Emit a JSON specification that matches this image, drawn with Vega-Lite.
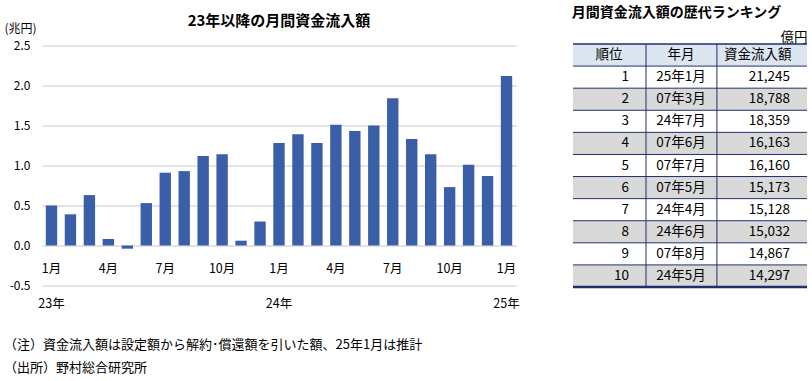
{
  "$schema": "https://vega.github.io/schema/vega-lite/v6.json",
  "padding": {"left": 4, "top": 6, "right": 5, "bottom": 5},
  "background": "white",
  "bounds": "flush",
  "spacing": 57,
  "center": true,
  "config": {
    "font": "Noto Sans CJK JP",
    "view": {"stroke": null},
    "text": {"font": "Noto Sans CJK JP"}
  },
  "title": {
    "text": ["（注）資金流入額は設定額から解約･償還額を引いた額、25年1月は推計", "（出所）野村総合研究所"],
    "orient": "bottom",
    "anchor": "start",
    "fontSize": 13,
    "fontWeight": "normal",
    "color": "#000000",
    "lineHeight": 22.5,
    "offset": 29
  },
  "datasets": {
    "flow": [
      {"ym": "23/01", "value": 0.50},
      {"ym": "23/02", "value": 0.39},
      {"ym": "23/03", "value": 0.63},
      {"ym": "23/04", "value": 0.08},
      {"ym": "23/05", "value": -0.04},
      {"ym": "23/06", "value": 0.53},
      {"ym": "23/07", "value": 0.91},
      {"ym": "23/08", "value": 0.93},
      {"ym": "23/09", "value": 1.12},
      {"ym": "23/10", "value": 1.14},
      {"ym": "23/11", "value": 0.06},
      {"ym": "23/12", "value": 0.30},
      {"ym": "24/01", "value": 1.28},
      {"ym": "24/02", "value": 1.39},
      {"ym": "24/03", "value": 1.28},
      {"ym": "24/04", "value": 1.51},
      {"ym": "24/05", "value": 1.43},
      {"ym": "24/06", "value": 1.50},
      {"ym": "24/07", "value": 1.84},
      {"ym": "24/08", "value": 1.33},
      {"ym": "24/09", "value": 1.14},
      {"ym": "24/10", "value": 0.73},
      {"ym": "24/11", "value": 1.01},
      {"ym": "24/12", "value": 0.87},
      {"ym": "25/01", "value": 2.12}
    ],
    "ranking": [
      {"rank": 1, "ym": "25年1月", "amount": 21245},
      {"rank": 2, "ym": "07年3月", "amount": 18788},
      {"rank": 3, "ym": "24年7月", "amount": 18359},
      {"rank": 4, "ym": "07年6月", "amount": 16163},
      {"rank": 5, "ym": "07年7月", "amount": 16160},
      {"rank": 6, "ym": "07年5月", "amount": 15173},
      {"rank": 7, "ym": "24年4月", "amount": 15128},
      {"rank": 8, "ym": "24年6月", "amount": 15032},
      {"rank": 9, "ym": "07年8月", "amount": 14867},
      {"rank": 10, "ym": "24年5月", "amount": 14297}
    ]
  },
  "hconcat": [
    {
      "width": 474,
      "height": 240,
      "title": {"text": "23年以降の月間資金流入額", "fontSize": 15, "fontWeight": "bold", "color": "#000000", "offset": -6},
      "data": {"name": "flow"},
      "mark": {"type": "bar", "color": "#3b5ea9"},
      "encoding": {
        "x": {
          "field": "ym", "type": "ordinal",
          "scale": {"paddingInner": 0.4, "paddingOuter": 0.2},
          "axis": {
            "title": null, "offset": -40, "domain": false, "ticks": false, "tickSize": 0,
            "labelPadding": 17, "labelAngle": 0, "labelFontSize": 12.5, "labelColor": "#000000",
            "labelLineHeight": 35, "labelOverlap": false, "labelBound": false, "labelFlush": false,
            "labelExpr": "[(toNumber(slice(datum.value,3)) % 3 == 1) ? toNumber(slice(datum.value,3)) + '月' : '', slice(datum.value,3) == '01' ? slice(datum.value,0,2) + '年' : '']"
          }
        },
        "y": {
          "field": "value", "type": "quantitative",
          "scale": {"domain": [-0.5, 2.5], "nice": false},
          "axis": {
            "values": [-0.5, 0, 0.5, 1, 1.5, 2, 2.5],
            "labelExpr": "replace(format(datum.value, '.1f'), '\u2212', '-')",
            "title": "(兆円)", "titleAngle": 0, "titleAlign": "left", "titleBaseline": "middle",
            "titleX": -38, "titleY": -17, "titleFontSize": 12, "titleFontWeight": "normal", "titleColor": "#000000",
            "grid": true, "gridColor": "#c8c8c8", "domain": false, "ticks": false, "tickSize": 0,
            "labelPadding": 12, "labelFontSize": 12, "labelColor": "#000000"
          }
        }
      }
    },
    {
      "width": 234,
      "height": 243,
      "title": {"text": "月間資金流入額の歴代ランキング", "anchor": "start", "fontSize": 14, "fontWeight": "bold", "color": "#000000", "offset": 10},
      "layer": [
        {
          "data": {"values": [{}]},
          "mark": {"type": "rect", "fill": "#dce6f1"},
          "encoding": {
            "x": {"value": 0}, "x2": {"value": "width"},
            "y": {"datum": "h", "type": "ordinal", "scale": {"domain": ["h", 1, 2, 3, 4, 5, 6, 7, 8, 9, 10], "paddingInner": 0, "paddingOuter": 0}, "axis": null}
          }
        },
        {
          "data": {"name": "ranking"},
          "transform": [{"filter": "datum.rank % 2 == 0"}],
          "mark": {"type": "rect", "fill": "#d9d9d9"},
          "encoding": {
            "x": {"value": 0}, "x2": {"value": "width"},
            "y": {"field": "rank", "type": "ordinal", "scale": {"domain": ["h", 1, 2, 3, 4, 5, 6, 7, 8, 9, 10], "paddingInner": 0, "paddingOuter": 0}, "axis": null}
          }
        },
        {
          "data": {"name": "ranking"},
          "mark": {"type": "rule", "stroke": "#1f2f6e", "strokeWidth": 1},
          "encoding": {
            "x": {"value": 0}, "x2": {"value": "width"},
            "y": {"field": "rank", "type": "ordinal", "bandPosition": 0, "scale": {"domain": ["h", 1, 2, 3, 4, 5, 6, 7, 8, 9, 10], "paddingInner": 0, "paddingOuter": 0}, "axis": null}
          }
        },
        {
          "data": {"values": [{}]},
          "mark": {"type": "rule", "stroke": "#1f2f6e", "strokeWidth": 1.5},
          "encoding": {
            "x": {"value": 0}, "x2": {"value": "width"},
            "y": {"datum": "h", "type": "ordinal", "bandPosition": 0, "scale": {"domain": ["h", 1, 2, 3, 4, 5, 6, 7, 8, 9, 10], "paddingInner": 0, "paddingOuter": 0}, "axis": null}
          }
        },
        {
          "data": {"values": [{}]},
          "mark": {"type": "rule", "stroke": "#1f2f6e", "strokeWidth": 2.5},
          "encoding": {
            "x": {"value": 0}, "x2": {"value": "width"},
            "y": {"datum": 10, "type": "ordinal", "bandPosition": 1, "scale": {"domain": ["h", 1, 2, 3, 4, 5, 6, 7, 8, 9, 10], "paddingInner": 0, "paddingOuter": 0}, "axis": null}
          }
        },
        {
          "data": {"values": [{}]},
          "mark": {"type": "rule", "stroke": "#1f2f6e", "strokeWidth": 1},
          "encoding": {
            "x": {"datum": 0.312, "type": "quantitative", "scale": {"domain": [0, 1], "nice": false, "zero": false},
              "axis": {"orient": "top", "title": "億円", "titleAnchor": "end", "titleFontSize": 13.5, "titleFontWeight": "normal", "titleColor": "#000000", "titlePadding": 0, "labels": false, "ticks": false, "domain": false, "grid": false}},
            "y": {"value": 0}, "y2": {"value": "height"}
          }
        },
        {
          "data": {"values": [{}]},
          "mark": {"type": "rule", "stroke": "#1f2f6e", "strokeWidth": 1},
          "encoding": {
            "x": {"datum": 0.615, "type": "quantitative"},
            "y": {"value": 0}, "y2": {"value": "height"}
          }
        },
        {
          "data": {"values": [{}]},
          "mark": {"type": "text", "fontSize": 13.5, "align": "center", "color": "#000000"},
          "encoding": {
            "x": {"datum": 0.154, "type": "quantitative"},
            "y": {"datum": "h", "type": "ordinal", "scale": {"domain": ["h", 1, 2, 3, 4, 5, 6, 7, 8, 9, 10], "paddingInner": 0, "paddingOuter": 0}, "axis": null},
            "text": {"value": "順位"}
          }
        },
        {
          "data": {"values": [{}]},
          "mark": {"type": "text", "fontSize": 13.5, "align": "center", "color": "#000000"},
          "encoding": {
            "x": {"datum": 0.4615, "type": "quantitative"},
            "y": {"datum": "h", "type": "ordinal", "scale": {"domain": ["h", 1, 2, 3, 4, 5, 6, 7, 8, 9, 10], "paddingInner": 0, "paddingOuter": 0}, "axis": null},
            "text": {"value": "年月"}
          }
        },
        {
          "data": {"values": [{}]},
          "mark": {"type": "text", "fontSize": 13.5, "align": "center", "color": "#000000"},
          "encoding": {
            "x": {"datum": 0.79, "type": "quantitative"},
            "y": {"datum": "h", "type": "ordinal", "scale": {"domain": ["h", 1, 2, 3, 4, 5, 6, 7, 8, 9, 10], "paddingInner": 0, "paddingOuter": 0}, "axis": null},
            "text": {"value": "資金流入額"}
          }
        },
        {
          "data": {"name": "ranking"},
          "mark": {"type": "text", "fontSize": 13.5, "align": "right", "color": "#000000"},
          "encoding": {
            "x": {"datum": 0.239, "type": "quantitative"},
            "y": {"field": "rank", "type": "ordinal", "scale": {"domain": ["h", 1, 2, 3, 4, 5, 6, 7, 8, 9, 10], "paddingInner": 0, "paddingOuter": 0}, "axis": null},
            "text": {"field": "rank", "type": "ordinal"}
          }
        },
        {
          "data": {"name": "ranking"},
          "mark": {"type": "text", "fontSize": 13.5, "align": "center", "color": "#000000"},
          "encoding": {
            "x": {"datum": 0.4615, "type": "quantitative"},
            "y": {"field": "rank", "type": "ordinal", "scale": {"domain": ["h", 1, 2, 3, 4, 5, 6, 7, 8, 9, 10], "paddingInner": 0, "paddingOuter": 0}, "axis": null},
            "text": {"field": "ym", "type": "nominal"}
          }
        },
        {
          "data": {"name": "ranking"},
          "mark": {"type": "text", "fontSize": 13.5, "align": "right", "color": "#000000"},
          "encoding": {
            "x": {"datum": 0.927, "type": "quantitative"},
            "y": {"field": "rank", "type": "ordinal", "scale": {"domain": ["h", 1, 2, 3, 4, 5, 6, 7, 8, 9, 10], "paddingInner": 0, "paddingOuter": 0}, "axis": null},
            "text": {"field": "amount", "type": "quantitative", "format": ","}
          }
        }
      ]
    }
  ]
}
